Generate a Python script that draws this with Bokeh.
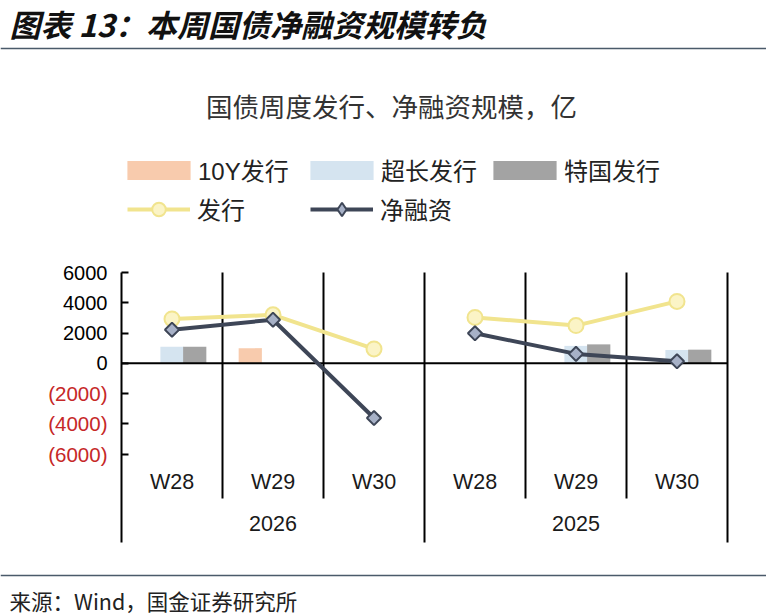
import numpy as np
from bokeh.plotting import figure
from bokeh.models import (Range1d, FixedTicker, LabelSet, Label, ColumnDataSource,
                          Legend, LegendItem)
from bokeh.core.properties import value
from bokeh.embed import file_html
from bokeh.resources import INLINE

# ---------------- data ----------------
years = ["2026", "2026", "2026", "2025", "2025", "2025"]
weeks = ["W28", "W29", "W30", "W28", "W29", "W30"]
year_labels = ["2026", "2025"]
issue_10y = [0, 1000, 0, 0, 0, 0]            # 10Y发行
issue_ultra = [1100, 0, 0, 0, 1150, 880]     # 超长发行
issue_special = [1100, 0, 0, 0, 1250, 900]   # 特国发行
issuance = [2930, 3200, 950, 3030, 2490, 4090]        # 发行
net_financing = [2220, 2880, -3620, 1980, 620, 130]   # 净融资
y_ticks = [-6000, -4000, -2000, 0, 2000, 4000, 6000]

# ---------------- geometry helpers (page pixels -> data) ----------------
W, H = 766, 615
PX_PER_UNIT = 15.13 / 1000.0   # pixels per 亿
SLOT_PX = 101.0
TOP_PAGE = 272.0               # page y of y=6000
LEFT_PAGE = 121.0              # page x of y axis


def vy(page_y):
    return 6000 - (page_y - TOP_PAGE) / PX_PER_UNIT


def vx(page_x):
    return (page_x - LEFT_PAGE) / SLOT_PX


n = len(weeks)
x_center = np.arange(n) + 0.5
y_low = vy(542)

p = figure(width=W, height=H, output_backend="svg", toolbar_location=None,
           x_range=Range1d(vx(0), vx(W)), y_range=Range1d(vy(H), vy(0)),
           x_axis_location=None, min_border=0)
p.outline_line_color = None
p.grid.visible = False
p.background_fill_color = "white"
p.border_fill_color = "white"

LATIN = "Liberation Sans"
CJK = "Noto Sans CJK SC"
MIX = "'Liberation Sans', 'Noto Sans CJK SC'"

# ---------------- y axis ----------------
ax = p.yaxis[0]
ax.fixed_location = 0
ax.bounds = (y_low, 6000)
ax.ticker = FixedTicker(ticks=y_ticks)
ax.major_label_overrides = {t: (str(t) if t >= 0 else "") for t in y_ticks}
ax.axis_line_color = "black"
ax.axis_line_width = 2
ax.major_tick_in = 7
ax.major_tick_out = 0
ax.major_tick_line_width = 2
ax.minor_tick_line_color = None
ax.major_label_standoff = 14
ax.major_label_text_font = LATIN
ax.major_label_text_font_size = "20px"
ax.major_label_text_color = "black"

neg_ticks = [t for t in y_ticks if t < 0]
neg_src = ColumnDataSource(dict(y=neg_ticks, t=["(%d)" % (-t) for t in neg_ticks]))
p.add_layout(LabelSet(x=vx(107), y="y", text="t", source=neg_src, text_align="right",
                      text_baseline="middle", text_font=value(LATIN),
                      text_font_size=value("20.5px"), text_color="#C62828"))

# ---------------- category dividers ----------------
inner = [i for i in range(1, n) if years[i] == years[i - 1]]
outer = [i for i in range(1, n) if years[i] != years[i - 1]] + [n]
p.segment(x0=inner, x1=inner, y0=6000, y1=vy(498), line_color="black", line_width=2)
p.segment(x0=outer, x1=outer, y0=6000, y1=y_low, line_color="black", line_width=2)

# ---------------- bars ----------------
bw = 0.23
r10 = p.vbar(x=x_center - 0.225, top=issue_10y, width=bw, fill_color="#F8CBAD",
             line_color=None)
ru = p.vbar(x=x_center, top=issue_ultra, width=bw, fill_color="#D5E4F0", line_color=None)
rs = p.vbar(x=x_center + 0.225, top=issue_special, width=bw, fill_color="#A3A3A3",
            line_color=None)

p.segment(x0=[0], x1=[n], y0=[0], y1=[0], line_color="black", line_width=2)

# ---------------- lines ----------------
ISS_LINE, ISS_FILL = "#F1E48E", "#FBF4C6"
NET_LINE, NET_FILL = "#3E4657", "#A7B1C7"
line_rs_iss = []
line_rs_net = []
for yr in year_labels:
    idx = [i for i in range(n) if years[i] == yr]
    line_rs_iss.append(p.line(x_center[idx], [issuance[i] for i in idx],
                              line_color=ISS_LINE, line_width=4))
for yr in year_labels:
    idx = [i for i in range(n) if years[i] == yr]
    line_rs_net.append(p.line(x_center[idx], [net_financing[i] for i in idx],
                              line_color=NET_LINE, line_width=4))
m_iss = p.scatter(x_center, issuance, marker="circle", size=15, fill_color=ISS_FILL,
                  line_color=ISS_LINE, line_width=2)
m_net = p.scatter(x_center, net_financing, marker="square", angle=np.pi / 4, size=10,
                  fill_color=NET_FILL, line_color=NET_LINE, line_width=2)
# legend-only diamond (same look as the rotated squares), kept outside the visible range
leg_diamond = p.scatter(x=[vx(-200)], y=[0], marker="diamond", size=17, fill_color=NET_FILL,
                        line_color=NET_LINE, line_width=2)

# ---------------- category labels ----------------
wk_src = ColumnDataSource(dict(x=x_center, t=weeks))
p.add_layout(LabelSet(x="x", y=vy(481), text="t", source=wk_src, text_align="center",
                      text_baseline="middle", text_font=value(LATIN),
                      text_font_size=value("21.5px"), text_color="#1a1a1a"))
yr_x = [float(np.mean([x_center[i] for i in range(n) if years[i] == yr])) for yr in year_labels]
yr_src = ColumnDataSource(dict(x=yr_x, t=year_labels))
p.add_layout(LabelSet(x="x", y=vy(523), text="t", source=yr_src, text_align="center",
                      text_baseline="middle", text_font=value(LATIN),
                      text_font_size=value("21.5px"), text_color="#1a1a1a"))

# ---------------- legends ----------------
leg1 = Legend(items=[LegendItem(label="10Y发行", renderers=[r10]),
                     LegendItem(label="超长发行", renderers=[ru]),
                     LegendItem(label="特国发行", renderers=[rs])],
              orientation="horizontal", location=(119, H - 187), glyph_width=79,
              glyph_height=24, label_standoff=0, label_width=98, spacing=6, padding=0,
              margin=0, border_line_alpha=0, background_fill_alpha=0,
              label_text_font_size="24px", label_text_font=MIX,
              label_text_color="#222222", label_height=24)
leg2 = Legend(items=[LegendItem(label="发行", renderers=[line_rs_iss[0], m_iss]),
                     LegendItem(label="净融资", renderers=[line_rs_net[0], leg_diamond])],
              orientation="horizontal", location=(127, H - 226), glyph_width=63,
              glyph_height=34, label_standoff=7, label_width=100, spacing=13, padding=0,
              margin=0, border_line_alpha=0, background_fill_alpha=0,
              label_text_font_size="24px", label_text_font=MIX,
              label_text_color="#222222", label_height=24)
p.add_layout(leg1)
p.add_layout(leg2)

# ---------------- titles / header / footer ----------------
p.add_layout(Label(x=vx(9), y=vy(23), text="图表 13：本周国债净融资规模转负",
                   text_font=CJK, text_font_style="bold italic", text_font_size="31px",
                   text_color="#111111", text_baseline="middle", text_align="left"))
p.segment(x0=[vx(0)], x1=[vx(W)], y0=[vy(48)], y1=[vy(48)], line_color="#4A5A6A",
          line_width=1.5)
p.add_layout(Label(x=vx(391), y=vy(105), text="国债周度发行、净融资规模，亿",
                   text_font=CJK, text_font_size="26.5px", text_color="#333333",
                   text_baseline="middle", text_align="center"))
p.segment(x0=[vx(0)], x1=[vx(W)], y0=[vy(575)], y1=[vy(575)], line_color="#4A5A6A",
          line_width=1.5)
p.add_layout(Label(x=vx(9), y=vy(600), text="来源：Wind，国金证券研究所",
                   text_font=CJK, text_font_size="21.5px", text_color="#222222",
                   text_baseline="middle", text_align="left"))

open("out.html", "w").write(file_html(p, INLINE))
